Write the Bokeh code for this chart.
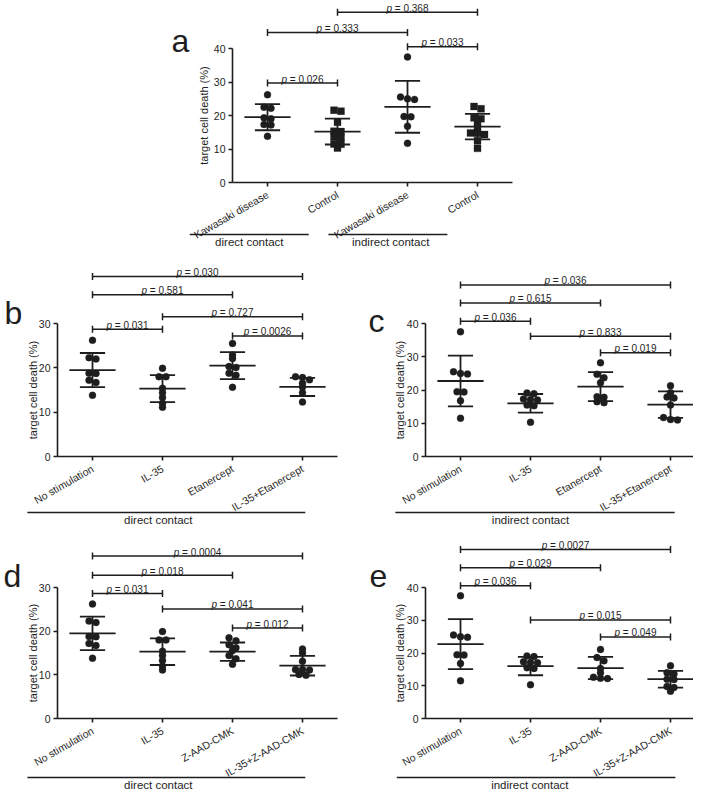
import numpy as np
from bokeh.plotting import figure
from bokeh.models import ColumnDataSource, FixedTicker, Range1d, LinearAxis
from bokeh.layouts import column, row
from bokeh.embed import file_html
from bokeh.resources import INLINE
from bokeh.core.properties import value

FONT = "Liberation Sans"
INK = "#1e1e1e"

# ---------------- data ----------------
# panel a
a_categories = ["Kawasaki disease", "Control", "Kawasaki disease", "Control"]
a_kd_direct = [26.2, 22.5, 22.2, 19.3, 19.0, 17.3, 17.2, 13.8]
a_ctrl_direct = [21.3, 21.6, 18.0, 15.2, 15.3, 13.6, 13.4, 11.5, 11.4, 10.3]
a_kd_indirect = [37.5, 25.5, 25.0, 24.8, 19.7, 19.6, 16.8, 11.7]
a_ctrl_indirect = [22.7, 22.0, 19.3, 19.0, 18.0, 16.4, 14.8, 14.7, 14.3, 12.5, 10.2]
a_means = [19.5, 15.2, 22.6, 16.7]
a_sds = [3.9, 3.85, 7.75, 3.8]
a_br_from = [0, 0, 2, 1]
a_br_to = [1, 2, 3, 3]
a_br_y = [29.7, 44.8, 40.5, 50.8]
a_br_p = ["0.026", "0.333", "0.033", "0.368"]
a_groups = ["direct contact", "indirect contact"]

# panel b (direct contact, etanercept)
b_categories = ["No stimulation", "IL-35", "Etanercept", "IL-35+Etanercept"]
direct_nostim = [26.2, 22.3, 22.0, 18.8, 18.7, 17.2, 16.7, 13.8]
direct_il35 = [19.9, 18.0, 18.0, 15.4, 14.4, 13.3, 12.0, 11.1]
b_etan = [25.5, 22.9, 22.1, 20.3, 20.1, 18.8, 18.3, 15.6]
b_combo = [18.0, 17.8, 17.3, 16.5, 15.7, 14.4, 12.3]
b_means = [19.5, 15.3, 20.5, 15.7]
b_sds = [3.85, 3.05, 3.05, 2.05]
b_br_from = [0, 0, 1, 0, 2]
b_br_to = [3, 2, 3, 1, 3]
b_br_y = [40.6, 36.5, 31.5, 28.7, 27.2]
b_br_p = ["0.030", "0.581", "0.727", "0.031", "0.0026"]

# panel c (indirect contact, etanercept)
c_categories = ["No stimulation", "IL-35", "Etanercept", "IL-35+Etanercept"]
indirect_nostim = [37.5, 25.5, 25.0, 24.8, 19.5, 19.4, 16.8, 11.5]
indirect_il35 = [19.1, 18.9, 17.3, 17.1, 17.0, 15.5, 15.3, 10.3]
c_etan = [28.2, 24.7, 23.7, 22.2, 18.0, 17.8, 16.5, 16.2]
c_combo = [21.3, 19.2, 17.9, 17.6, 15.5, 11.7, 11.1, 11.0]
c_means = [22.7, 16.0, 21.0, 15.6]
c_sds = [7.65, 2.8, 4.35, 4.0]
c_br_from = [0, 0, 0, 1, 2]
c_br_to = [3, 2, 1, 3, 3]
c_br_y = [51.6, 46.2, 40.7, 36.2, 31.2]
c_br_p = ["0.036", "0.615", "0.036", "0.833", "0.019"]

# panel d (direct contact, Z-AAD-CMK)
d_categories = ["No stimulation", "IL-35", "Z-AAD-CMK", "IL-35+Z-AAD-CMK"]
d_zaad = [18.5, 17.8, 16.9, 16.2, 15.6, 14.4, 13.7, 12.4]
d_combo = [15.9, 15.0, 13.1, 11.2, 11.2, 11.1, 10.1, 9.9]
d_means = [19.5, 15.3, 15.3, 12.1]
d_sds = [3.85, 3.05, 2.1, 2.25]
d_br_from = [0, 0, 0, 1, 2]
d_br_to = [3, 2, 1, 3, 3]
d_br_y = [37.2, 32.8, 28.6, 25.1, 20.7]
d_br_p = ["0.0004", "0.018", "0.031", "0.041", "0.012"]

# panel e (indirect contact, Z-AAD-CMK)
e_categories = ["No stimulation", "IL-35", "Z-AAD-CMK", "IL-35+Z-AAD-CMK"]
e_zaad = [21.1, 18.6, 17.6, 15.3, 14.0, 12.6, 12.3, 12.2]
e_combo = [16.1, 14.0, 13.6, 12.0, 11.9, 9.8, 9.5, 8.3]
e_means = [22.7, 16.0, 15.4, 12.0]
e_sds = [7.65, 2.8, 3.4, 2.55]
e_br_from = [0, 0, 0, 1, 2]
e_br_to = [3, 2, 1, 3, 3]
e_br_y = [51.6, 46.0, 40.5, 30.1, 24.9]
e_br_p = ["0.0027", "0.029", "0.036", "0.015", "0.049"]

# ---------------- styling / layout ----------------
XS = 70.0          # px per category
MEAN_HW = 0.33     # half width of mean line (category units)
CAP_HW = 0.18
FS_P = 10.0
AW = {"p": 0.556, " ": 0.278, "=": 0.584, ".": 0.278}
for ch in "0123456789":
    AW[ch] = 0.556


def text_w(s, fs):
    return sum(AW.get(ch, 0.556) for ch in s) * fs


def jitter(vals, yscale, step_px=7.0, row_px=3.5):
    vals = np.asarray(vals, float)
    order = np.argsort(-vals, kind="stable")
    rows = []
    for i in order:
        if rows and (vals[rows[-1][0]] - vals[i]) * yscale < row_px:
            rows[-1].append(i)
        else:
            rows.append([i])
    offs = np.zeros(len(vals))
    for r in rows:
        n = len(r)
        for k, i in enumerate(r):
            offs[i] = (k - (n - 1) / 2) * step_px
    return offs / XS


def style_axis(ax, fs):
    ax.axis_line_color = INK
    ax.axis_line_width = 1.6
    ax.major_tick_line_color = INK
    ax.major_tick_line_width = 1.6
    ax.major_tick_out = 4
    ax.major_tick_in = 0
    ax.minor_tick_out = 0
    ax.minor_tick_in = 0
    ax.major_label_text_font = FONT
    ax.major_label_text_font_size = fs
    ax.major_label_text_color = INK


def panel(letter, box, origin, yscale, ymax, cats, series, markers, means, sds,
          br_from, br_to, br_y, br_p, groups, group_spans, group_text_x,
          group_line_px, letter_pos, ytitle_px=26):
    left, top, W, H = box
    ox, oy = origin
    x_start = -0.5 - (ox - left) / XS
    x_end = x_start + W / XS
    y_end = (oy - top) / yscale
    y_start = y_end - H / yscale

    def sx2d(sx):
        return x_start + (sx - left) / XS

    def sy2d(sy):
        return y_end - (sy - top) / yscale

    p = figure(width=W, height=H, x_range=Range1d(x_start, x_end),
               y_range=Range1d(y_start, y_end), output_backend="svg",
               toolbar_location=None, min_border=0, x_axis_location=None,
               y_axis_location=None, outline_line_color=None)
    p.grid.visible = False

    ya = LinearAxis(fixed_location=-0.5, bounds=(0, ymax),
                    ticker=FixedTicker(ticks=list(range(0, ymax + 1, 10))))
    style_axis(ya, "10.5px")
    ya.major_label_standoff = 3
    p.add_layout(ya, "left")

    xa = LinearAxis(fixed_location=0, bounds=(-0.5, 3.5),
                    ticker=FixedTicker(ticks=[0, 1, 2, 3]),
                    major_label_overrides={i: c for i, c in enumerate(cats)},
                    major_label_orientation=np.pi / 6)
    style_axis(xa, "10.5px")
    xa.major_label_standoff = 7
    p.add_layout(xa, "below")

    # points
    for i, vals in enumerate(series):
        xs = i + jitter(vals, yscale)
        src = ColumnDataSource(dict(x=xs, y=vals))
        p.scatter("x", "y", source=src, marker=markers[i], size=7,
                  fill_color=INK, line_color=INK, line_width=0.3)

    # mean +/- SD
    idx = np.arange(len(cats), dtype=float)
    m = np.asarray(means, float)
    s = np.asarray(sds, float)
    lk = dict(line_color=INK, line_width=1.8)
    p.segment(idx - MEAN_HW, m, idx + MEAN_HW, m, **lk)
    p.segment(idx, m - s, idx, m + s, **lk)
    p.segment(idx - CAP_HW, m + s, idx + CAP_HW, m + s, **lk)
    p.segment(idx - CAP_HW, m - s, idx + CAP_HW, m - s, **lk)

    # significance brackets
    bf = np.asarray(br_from, float)
    bt = np.asarray(br_to, float)
    by = np.asarray(br_y, float)
    tk = 3.5 / yscale
    bk = dict(line_color=INK, line_width=1.5)
    p.segment(bf, by, bt, by, **bk)
    p.segment(bf, by - tk, bf, by + tk, **bk)
    p.segment(bt, by - tk, bt, by + tk, **bk)
    cx = (bf + bt) / 2
    rest = ["= " + v for v in br_p]
    totals = [text_w("p " + r, FS_P) for r in rest]
    p_off = [-t / 2 for t in totals]
    r_off = [-t / 2 + text_w("p ", FS_P) for t in totals]
    tkw = dict(text_font=value(FONT), text_font_size="%gpx" % FS_P,
               text_color=INK, text_align="left", text_baseline="alphabetic")
    p.text(x=cx, y=by, text=["p"] * len(rest), x_offset=p_off, y_offset=-4,
           text_font_style="italic", **tkw)
    p.text(x=cx, y=by, text=rest, x_offset=r_off, y_offset=-4, **tkw)

    # grouping lines under the category labels
    gy = -group_line_px / yscale
    p.segment([g[0] for g in group_spans], gy, [g[1] for g in group_spans], gy,
              line_color=INK, line_width=1.5)
    p.text(x=group_text_x, y=-(group_line_px + 7) / yscale, text=groups,
           text_font=value(FONT), text_font_size="11.5px", text_color=INK,
           text_align="center", text_baseline="middle")

    # y title
    p.text(x=[-0.5 - ytitle_px / XS], y=[ymax / 2], text=["target cell death (%)"],
           angle=np.pi / 2, text_font=value(FONT), text_font_size="11px",
           text_color=INK, text_align="center", text_baseline="middle")

    # panel letter
    p.text(x=[sx2d(letter_pos[0])], y=[sy2d(letter_pos[1])], text=[letter],
           text_font=value(FONT), text_font_size="32px", text_color=INK,
           text_align="left", text_baseline="alphabetic")
    return p


circ = ["circle"] * 4
pa = panel("a", (0, 0, 693, 255), (232, 182), 3.35, 40, a_categories,
           [a_kd_direct, a_ctrl_direct, a_kd_indirect, a_ctrl_indirect],
           ["circle", "square", "circle", "square"], a_means, a_sds,
           a_br_from, a_br_to, a_br_y, a_br_p, a_groups,
           [(-1.11, 0.59), (0.87, 2.57)], [-0.26, 1.76], 52, (171, 40), 29)

pb = panel("b", (0, 255, 355, 274), (57, 456), 133 / 30, 30, b_categories,
           [direct_nostim, direct_il35, b_etan, b_combo], circ, b_means, b_sds,
           b_br_from, b_br_to, b_br_y, b_br_p, ["direct contact"],
           [(-0.93, 3.04)], [0.94], 56, (4, 312), 25)

pc = panel("c", (355, 255, 338, 274), (425, 456), 133 / 40, 40, c_categories,
           [indirect_nostim, indirect_il35, c_etan, c_combo], circ, c_means, c_sds,
           c_br_from, c_br_to, c_br_y, c_br_p, ["indirect contact"],
           [(-0.93, 3.06)], [1.0], 56, (368, 320), 26)

pd_ = panel("d", (0, 529, 355, 262), (57, 718), 131 / 30, 30, d_categories,
            [direct_nostim, direct_il35, d_zaad, d_combo], circ, d_means, d_sds,
            d_br_from, d_br_to, d_br_y, d_br_p, ["direct contact"],
            [(-0.93, 3.04)], [0.94], 59, (3, 575), 25)

pe = panel("e", (355, 529, 338, 262), (425, 718), 131 / 40, 40, e_categories,
           [indirect_nostim, indirect_il35, e_zaad, e_combo], circ, e_means, e_sds,
           e_br_from, e_br_to, e_br_y, e_br_p, ["indirect contact"],
           [(-0.91, 3.07)], [0.99], 59, (369, 575), 26)

layout = column(pa, row(pb, pc), row(pd_, pe))
open("out.html", "w").write(file_html(layout, INLINE))
